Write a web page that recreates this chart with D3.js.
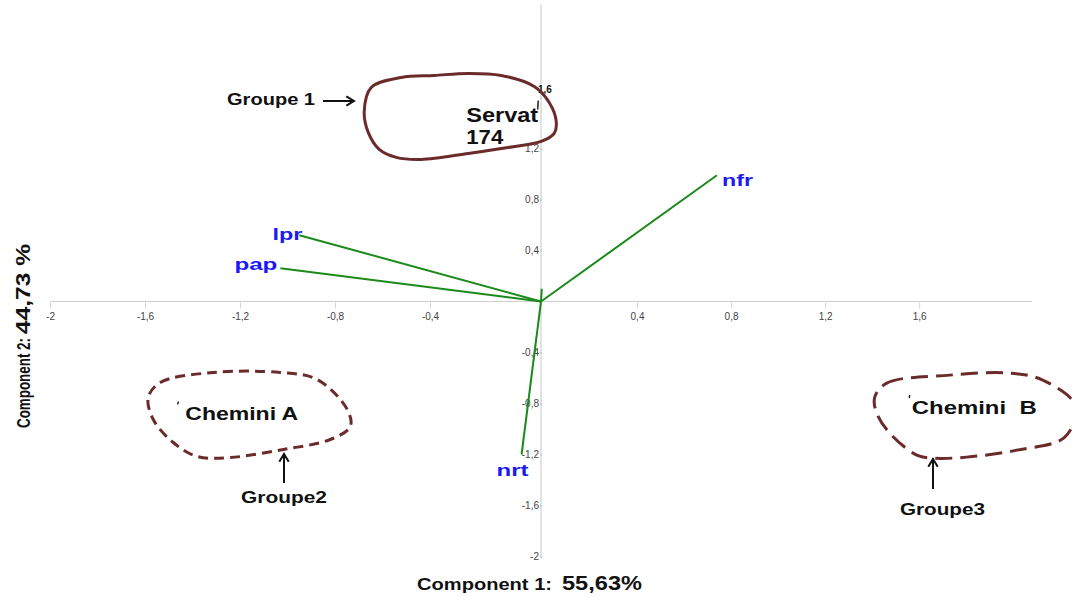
<!DOCTYPE html>
<html>
<head>
<meta charset="utf-8">
<script src="https://cdn.jsdelivr.net/npm/d3@7"></script>
<style>
  html, body { margin: 0; padding: 0; background: #fff; }
  svg { display: block; font-family: "Liberation Sans", Arial, sans-serif; }
  .pre { white-space: pre; }
</style>
</head>
<body>
<svg id="chart" width="1072" height="597"></svg>
<script>
// Variable loadings (biplot vectors)
const varNames = ["nfr", "lpr", "pap", "nrt", ""];
const loadX = [0.74, -0.95, -1.03, -0.07, 0.003];
const loadY = [0.99, 0.52, 0.26, -1.20, 0.10];

// Group scores
const groupNames = ["Servat 174", "Chemini A", "Chemini B"];
const scoreX = [-0.01, -1.46, 1.56];
const scoreY = [1.53, -0.80, -0.75];
const groupLabels = ["Groupe 1", "Groupe2", "Groupe3"];

// Axis ticks and titles
const xTicks = [-2, -1.6, -1.2, -0.8, -0.4, 0.4, 0.8, 1.2, 1.6];
const yTicks = [-2, -1.6, -1.2, -0.8, -0.4, 0.4, 0.8, 1.2, 1.6];
const xTitle = ["Component 1:", "55,63%"];
const yTitle = ["Component 2:", "44,73 %"];

const svg = d3.select("#chart");
const FONT = '"Liberation Sans", Arial, sans-serif';
const BLUE = "#1a1af7";
const GREEN = "#1b8a1b";
const BROWN = "#6b2b2b";

// Scales (the horizontal axis is not uniform on both sides of the origin)
const x = d3.scaleLinear()
  .domain([-2, -0.4, 0, 0.4, 2.08])
  .range([50, 430, 541, 637, 1032]);
const y = d3.scaleLinear()
  .domain([-2, 2])
  .range([556.5, 46.5]);

const loc = d3.formatLocale({ decimal: ",", thousands: " ", grouping: [3], currency: ["", ""], minus: "-" });
const fmt = loc.format("~g");

// Axis lines
svg.append("line")
  .attr("x1", x(-2)).attr("x2", x(2.08))
  .attr("y1", y(0)).attr("y2", y(0))
  .attr("stroke", "#cfcfcf").attr("stroke-width", 1.2);
svg.append("line")
  .attr("x1", x(0)).attr("x2", x(0))
  .attr("y1", y(2.33)).attr("y2", y(-2.01))
  .attr("stroke", "#cfcfcf").attr("stroke-width", 1.2);

// X axis ticks
const gx = svg.append("g")
  .attr("transform", `translate(0,${y(0) + 1})`)
  .call(d3.axisBottom(x).tickValues(xTicks).tickFormat(fmt).tickSizeInner(6).tickSizeOuter(0).tickPadding(4));
gx.select(".domain").remove();
gx.selectAll(".tick line").attr("stroke", "#d4d4d4");
gx.selectAll(".tick text").attr("fill", "#444").style("font-size", "10px").style("font-family", FONT);

// Y axis ticks
const gy = svg.append("g")
  .attr("transform", `translate(${x(0) + 1},0)`)
  .call(d3.axisLeft(y).tickValues(yTicks).tickFormat(fmt).tickSizeInner(2).tickSizeOuter(0).tickPadding(1));
gy.select(".domain").remove();
gy.selectAll(".tick line").attr("stroke", "#bbb");
gy.selectAll(".tick text").attr("fill", "#444").style("font-size", "10px").style("font-family", FONT);
// top tick label sits to the right of the axis in bold
gy.selectAll(".tick").filter(d => d === 1.6).select("text")
  .attr("text-anchor", "start").attr("x", -4).attr("dy", "-0.5em")
  .attr("fill", "#111").style("font-weight", "bold").style("font-size", "10px");

// Loading vectors
const origin = [x(0), y(0)];
const vec = svg.append("g");
varNames.forEach((name, i) => {
  vec.append("line")
    .attr("x1", origin[0]).attr("y1", origin[1])
    .attr("x2", x(loadX[i])).attr("y2", y(loadY[i]))
    .attr("stroke", GREEN).attr("stroke-width", 2);
});

// Vector labels: placement relative to each arrow tip
const labelPlace = {
  nfr: { dx: 5, dy: 11, anchor: "start", len: 31 },
  lpr: { dx: 3, dy: 5, anchor: "end", len: 30 },
  pap: { dx: -3, dy: 2, anchor: "end", len: 43 },
  nrt: { dx: -9, dy: 21, anchor: "middle", len: 32 }
};
varNames.forEach((name, i) => {
  if (!name) return;
  const p = labelPlace[name];
  vec.append("text")
    .attr("x", x(loadX[i]) + p.dx).attr("y", y(loadY[i]) + p.dy)
    .attr("text-anchor", p.anchor)
    .attr("textLength", p.len).attr("lengthAdjust", "spacingAndGlyphs")
    .attr("fill", BLUE).style("font-weight", "bold").style("font-size", "17px")
    .text(name);
});

// Group outlines (pixel offsets around each group point)
const outlines = [
  [[-167,-19],[-137,-29],[-104,-31],[-70,-33],[-37,-31],[-4,-20],[11,-4],[18,15],[16,27],[3,35],[-37,42],[-70,47],[-117,53],[-142,51],[-159,43],[-170,26],[-174,5]],
  [[-30,-6],[-18,-21],[35,-31],[102,-31],[139,-24],[169,6],[172,23],[152,36],[105,46],[52,54],[19,53],[-5,39],[-25,16]],
  [[-35,0],[-23,-14],[40,-22],[100,-24],[133,-17],[166,9],[155,40],[107,53],[57,60],[23,61],[7,58],[-20,36],[-33,16]]
];
const dashes = [null, "10 6", "17 8"];
const blob = d3.line().curve(d3.curveCatmullRomClosed.alpha(0.5));
const grp = svg.append("g");
groupNames.forEach((name, i) => {
  const px = x(scoreX[i]), py = y(scoreY[i]);
  grp.append("path")
    .attr("d", blob(outlines[i].map(([dx, dy]) => [px + dx, py + dy])))
    .attr("fill", "none").attr("stroke", BROWN).attr("stroke-width", 3)
    .attr("stroke-dasharray", dashes[i]);
  // point marker
  grp.append("line")
    .attr("x1", px).attr("x2", px - 0.5)
    .attr("y1", py - (i === 0 ? 6 : 2)).attr("y2", py + (i === 0 ? 3 : 1))
    .attr("stroke", "#111").attr("stroke-width", 1.4);
});

// Group point names
function boldText(sel, tx, ty, str, size, len) {
  return sel.append("text")
    .attr("class", "pre")
    .attr("x", tx).attr("y", ty)
    .attr("textLength", len).attr("lengthAdjust", "spacingAndGlyphs")
    .attr("fill", "#111").style("font-weight", "bold").style("font-size", size + "px")
    .text(str);
}
{
  const px = x(scoreX[0]), py = y(scoreY[0]);
  const parts = groupNames[0].split(" ");
  boldText(grp, px - 72, py + 16, parts[0], 21, 72);
  boldText(grp, px - 72, py + 38, parts[1], 21, 37);
}
boldText(grp, x(scoreX[1]) + 7, y(scoreY[1]) + 16, groupNames[1], 18, 113);
boldText(grp, x(scoreX[2]) + 2, y(scoreY[2]) + 17, groupNames[2].replace(" ", "  "), 18, 125);

// Callout labels with arrows
function arrow(sel, x1, y1, x2, y2) {
  const a = Math.atan2(y2 - y1, x2 - x1), L = 9, W = 0.55;
  sel.append("line").attr("x1", x1).attr("y1", y1).attr("x2", x2).attr("y2", y2)
    .attr("stroke", "#111").attr("stroke-width", 2);
  sel.append("path")
    .attr("d", `M${x2 - L * Math.cos(a - W)},${y2 - L * Math.sin(a - W)}L${x2},${y2}L${x2 - L * Math.cos(a + W)},${y2 - L * Math.sin(a + W)}`)
    .attr("fill", "none").attr("stroke", "#111").attr("stroke-width", 2);
}
const call = svg.append("g");
boldText(call, 227, 105, groupLabels[0], 16, 88);
arrow(call, 323, 101, 354, 101);
boldText(call, 241, 503, groupLabels[1], 16, 86);
arrow(call, 284, 483, 284, 454);
boldText(call, 900, 515, groupLabels[2], 16, 85);
arrow(call, 933, 489, 933, 459);

// Axis titles
boldText(svg, 417, 590, xTitle[0], 16, 135);
boldText(svg, 562, 590, xTitle[1], 20, 80);
const yt = svg.append("g").attr("transform", "translate(30,428) rotate(-90)");
boldText(yt, 0, 0, yTitle[0], 18, 90);
boldText(yt, 94, 0, yTitle[1], 21, 90);
</script>
</body>
</html>
